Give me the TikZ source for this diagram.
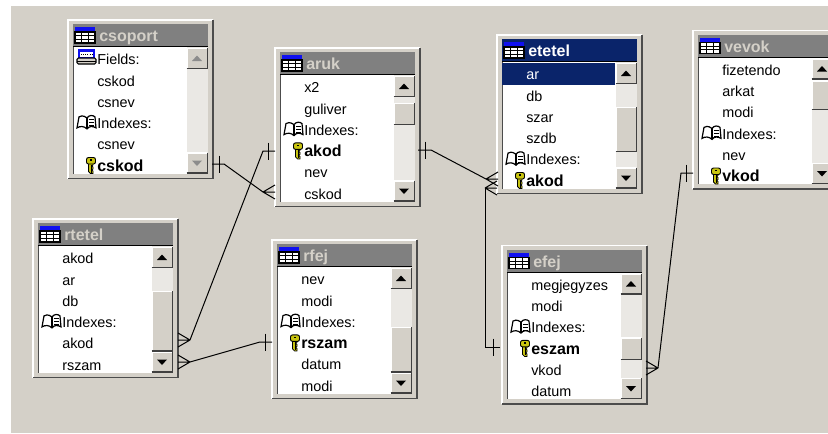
\documentclass[tikz,border=0pt]{standalone}
\usepackage{fontspec}
\setmainfont{Liberation Sans}
\usetikzlibrary{calc}
\definecolor{desk}{HTML}{D4D0C8}
\definecolor{idlebar}{HTML}{808080}
\definecolor{navybar}{HTML}{0A246A}
\definecolor{track}{HTML}{EAE8E4}
\definecolor{keygold}{HTML}{C8C410}
\definecolor{iconblue}{HTML}{1010F0}
\tikzset{rel/.style={draw=black,line width=.75pt}}
\tikzset{winbox/.style={fill=desk,inner sep=0pt,anchor=north west,minimum width=108.4pt,minimum height=118.5pt}}
\tikzset{titlebar/.style={inner sep=0pt,anchor=north west,text width=100.9pt,align=left,text height=13.1pt,text depth=3.4pt,font=\fontsize{12}{14}\selectfont\bfseries}}
\tikzset{title idle/.style={fill=idlebar,text=desk}}
\tikzset{title active/.style={fill=navybar,text=white}}
\tikzset{row plain/.style={inner sep=0pt,anchor=base west,font=\fontsize{10.8}{13}\selectfont}}
\tikzset{row book/.style={row plain}}
\tikzset{row fields/.style={row plain}}
\tikzset{row sel/.style={row plain,text=white}}
\tikzset{row key/.style={inner sep=0pt,anchor=base west,font=\fontsize{12}{14}\selectfont\bfseries}}
\tikzset{
  icon plain/.pic={},
  icon sel/.pic={\fill[navybar] (-24,-10.8) rectangle (89,10.8);},
  icon book/.pic={
    \draw[black,fill=white,line width=.9pt] (-10,-5) .. controls (-14,-8) and (-17,-7) .. (-18,-6) -- (-20,5) .. controls (-17,3) and (-13,3) .. (-10,6) .. controls (-8,3) and (-4,3) .. (-1,5) -- (-2,-6) .. controls (-4,-8) and (-8,-8) .. cycle;
    \draw[black,line width=.8pt] (-10,-5) -- (-10,6) (-8,-3) -- (-3,-3) (-8,0) -- (-3,0) (-8,3) -- (-3,3);
  },
  icon fields/.pic={
    \draw[iconblue,fill=white,line width=.8pt] (-18,-9.5) rectangle (-3,-1);
    \fill[iconblue] (-18,-9.5) rectangle (-3,-7);
    \draw[black,line width=.6pt,densely dotted] (-16,-4.5) -- (-5,-4.5);
    \draw[black,fill=desk,line width=.8pt,rounded corners=1pt] (-20,-1) rectangle (-1,5);
    \draw[black,line width=.6pt] (-20,2) -- (-1,2);
  },
  icon key/.pic={
    \draw[black,fill=keygold,line width=.6pt] (-8.5,-2) -- (-8.5,6) -- (-6.5,8) -- (-4,8) -- (-4,5.5) -- (-5.5,4.5) -- (-4,3.5) -- (-4,1.5) -- (-5.5,.5) -- (-4,-.5) -- (-4,-2) -- cycle;
    \fill[black] (-6,-1) rectangle (-5,7);
    \draw[black,fill=keygold,line width=.7pt,rounded corners=1.5pt] (-10.5,-8) rectangle (-1.5,-1.5);
    \fill[black] (-7,-6.2) rectangle (-5,-4.8);
  },
  icon table/.pic={
    \fill[iconblue] (0,0) rectangle (20,5);
    \draw[black,fill=white,line width=.8pt] (0,5) rectangle (20,16);
    \draw[black,line width=.6pt] (0,8.7) -- (20,8.7) (0,12.3) -- (20,12.3) (6.7,5) -- (6.7,16) (13.3,5) -- (13.3,16);
  },
  one/.pic={\draw[rel] (7,-8.5) -- (7,8.5);},
  many/.pic={\draw[rel] (12,0) -- (0,-7) (12,0) -- (0,0) (12,0) -- (0,7);}
}
\newcommand{\dbbutton}[2]{%
  \fill[desk] (118.5,#1) rectangle (139.5,#2);
  \draw[white,line width=.8pt] (119,#2) |- (139,#1+.5);
  \draw[black!75,line width=1pt] (118.5,#2-.5) -| (139.2,#1);
}
\newcommand{\dbtable}[6][black]{%
  \node[winbox] (#2) at (#3,#4) {};
  \draw[white,line width=1pt] (#2.south west) |- (#2.north east);
  \draw[black!70,line width=1.4pt] (#2.south west) -| (#2.north east);
  \begin{scope}[shift={(#3,#4)}]
    \node[titlebar,#5] (#2-title) at (5,4) {\hspace*{19.5pt}#2};
    \pic at (7,7) {icon table};
    \fill[white] (5,27) rectangle (118.5,153.5);
    \fill[track] (118.5,27) rectangle (139.5,153.5);
    \draw[black,line width=1pt] (5,26.7) -- (139.5,26.7);
    \draw[black!70,line width=1.2pt] (5.4,27) -- (5.4,153.5);
    \foreach \kind/\txt [count=\i] in {#6} {
      \pic at (29,{39+21.3*(\i-1)}) {icon \kind};
      \node[row \kind] (#2-\i) at (29,{44.7+21.3*(\i-1)}) {\txt};
    }
    \dbbutton{28}{49}
    \dbbutton{132.5}{153.5}
    \fill[#1] (124,41) -- (134,41) -- (129,35.5) -- cycle;
    \fill[#1] (124,140.5) -- (134,140.5) -- (129,146) -- cycle;
  \end{scope}
}
\newcommand{\dbthumb}[3]{%
  \begin{scope}[shift={(#1.north west)}]
    \dbbutton{#2}{#3}
  \end{scope}
}
\begin{document}
\begin{tikzpicture}[x=.75pt,y=-.75pt]
  \clip (0,0) rectangle (828,433);
  \useasboundingbox (0,0) rectangle (828,433);
  \fill[white] (0,0) rectangle (828,433);
  \fill[desk] (11,6) rectangle (828,433);

  \dbtable[black!45]{csoport}{68}{20}{title idle}{fields/Fields:,plain/cskod,plain/csnev,book/Indexes:,plain/csnev,key/cskod}
  \dbtable{aruk}{275}{48}{title idle}{plain/x2,plain/guliver,book/Indexes:,key/akod,plain/nev,plain/cskod}
  \dbthumb{aruk}{55}{77}
  \dbtable{etetel}{497}{35}{title active}{sel/ar,plain/db,plain/szar,plain/szdb,book/Indexes:,key/akod}
  \dbthumb{etetel}{72}{117}
  \dbtable{vevok}{693}{30.5}{title idle}{plain/fizetendo,plain/arkat,plain/modi,book/Indexes:,plain/nev,key/vkod}
  \dbthumb{vevok}{50}{79.5}
  \dbtable{rtetel}{33}{219}{title idle}{plain/akod,plain/ar,plain/db,book/Indexes:,plain/akod,plain/rszam}
  \dbthumb{rtetel}{72}{132.5}
  \dbtable{rfej}{272}{240}{title idle}{plain/nev,plain/modi,book/Indexes:,key/rszam,plain/datum,plain/modi}
  \dbthumb{rfej}{87}{132.5}
  \dbtable{efej}{502}{245.5}{title idle}{plain/megjegyzes,plain/modi,book/Indexes:,key/eszam,plain/vkod,plain/datum}
  \dbthumb{efej}{92}{114.5}

  \coordinate (csoport-out) at (212,164);
  \coordinate (aruk-in) at (275,192);
  \coordinate (rtetel-akod) at (178,340);
  \coordinate (aruk-pk) at (275,151);
  \coordinate (rtetel-rszam) at (178,362);
  \coordinate (rfej-pk) at (272,342);
  \coordinate (aruk-out) at (418,150);
  \coordinate (etetel-in) at (498,179);
  \coordinate (etetel-fk) at (497,188);
  \coordinate (efej-pk) at (500,347);
  \coordinate (efej-out) at (646,368);
  \coordinate (vevok-pk) at (693,173);

  \draw[rel] (csoport-out) -- ++(12,0) -- ($(aruk-in)+(-12,0)$);
  \pic at (csoport-out) {one};
  \pic[xscale=-1] at (aruk-in) {many};
  \draw[rel] ($(rtetel-akod)+(12,0)$) -- ($(aruk-pk)+(-12,0)$) -- (aruk-pk);
  \pic[xscale=-1] at (aruk-pk) {one};
  \pic at (rtetel-akod) {many};
  \draw[rel] ($(rtetel-rszam)+(12,0)$) -- ($(rfej-pk)+(-12,0)$) -- (rfej-pk);
  \pic[xscale=-1] at (rfej-pk) {one};
  \pic at (rtetel-rszam) {many};
  \draw[rel] (aruk-out) -- ++(13,0) -- ($(etetel-in)+(-12,0)$);
  \pic at (aruk-out) {one};
  \pic[xscale=-1] at (etetel-in) {many};
  \draw[rel] (efej-pk) -| ($(etetel-fk)+(-12,0)$);
  \pic[xscale=-1] at (efej-pk) {one};
  \pic[xscale=-1] at (etetel-fk) {many};
  \draw[rel] ($(efej-out)+(12,0)$) -- ($(vevok-pk)+(-12,0)$) -- (vevok-pk);
  \pic at (efej-out) {many};
  \pic[xscale=-1] at (vevok-pk) {one};
\end{tikzpicture}
\end{document}
